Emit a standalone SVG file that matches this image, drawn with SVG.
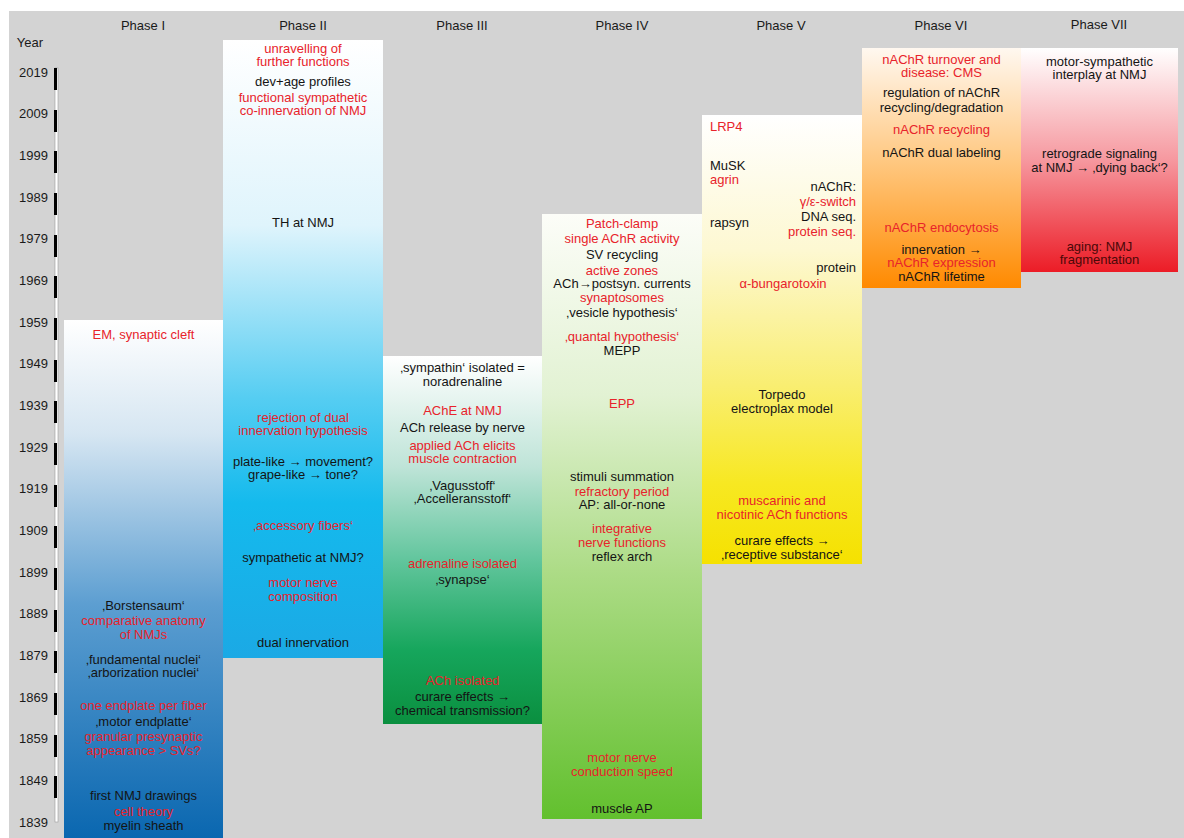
<svg xmlns="http://www.w3.org/2000/svg" width="1184" height="838" viewBox="0 0 1184 838">
<defs>
<style>
.t{font-family:"Liberation Sans",Arial,sans-serif;font-size:13px;text-anchor:middle;fill:#141414}
.r{fill:#e8232b}
.d{fill:#4a0808}
.l{text-anchor:start}
.e{text-anchor:end}
.y{font-family:"Liberation Sans",Arial,sans-serif;font-size:13px;text-anchor:end;fill:#1a1a1a}
.h{font-family:"Liberation Sans",Arial,sans-serif;font-size:13px;text-anchor:middle;fill:#1a1a1a}
.tick{fill:#000}
</style>
<linearGradient id="g1" x1="0" y1="0" x2="0" y2="1">
<stop offset="0" stop-color="#ffffff"/><stop offset="0.22" stop-color="#d6e6f2"/><stop offset="0.55" stop-color="#5c9ed1"/><stop offset="1" stop-color="#0a67b0"/>
</linearGradient>
<linearGradient id="g2" x1="0" y1="0" x2="0" y2="1">
<stop offset="0" stop-color="#ffffff"/><stop offset="0.3" stop-color="#dff4fc"/><stop offset="0.58" stop-color="#55cdf2"/><stop offset="0.75" stop-color="#14baed"/><stop offset="1" stop-color="#1ba9e5"/>
</linearGradient>
<linearGradient id="g3" x1="0" y1="0" x2="0" y2="1">
<stop offset="0" stop-color="#ffffff"/><stop offset="0.3" stop-color="#bfe4d8"/><stop offset="0.55" stop-color="#63c69e"/><stop offset="0.8" stop-color="#16a65c"/><stop offset="1" stop-color="#0a8f3f"/>
</linearGradient>
<linearGradient id="g4" x1="0" y1="0" x2="0" y2="1">
<stop offset="0" stop-color="#fcfdf8"/><stop offset="0.3" stop-color="#e2f2d3"/><stop offset="0.6" stop-color="#abdb84"/><stop offset="1" stop-color="#62c02e"/>
</linearGradient>
<linearGradient id="g5" x1="0" y1="0" x2="0" y2="1">
<stop offset="0" stop-color="#ffffff"/><stop offset="0.3" stop-color="#fdf8d2"/><stop offset="0.6" stop-color="#f9ee72"/><stop offset="0.82" stop-color="#f7e822"/><stop offset="1" stop-color="#f5e100"/>
</linearGradient>
<linearGradient id="g6" x1="0" y1="0" x2="0" y2="1">
<stop offset="0" stop-color="#fff8f0"/><stop offset="0.5" stop-color="#ffc57a"/><stop offset="1" stop-color="#ff8a00"/>
</linearGradient>
<linearGradient id="g7" x1="0" y1="0" x2="0" y2="1">
<stop offset="0" stop-color="#ffffff"/><stop offset="0.5" stop-color="#f6989f"/><stop offset="1" stop-color="#ec1c26"/>
</linearGradient>
</defs>
<rect x="0" y="0" width="1184" height="838" fill="#ffffff"/>
<rect x="9" y="11" width="1175" height="827" fill="#d3d3d3"/>

<g id="axis">
<text class="h" x="30" y="47">Year</text>
<rect x="55" y="68" width="3" height="754" fill="#ffffff" stroke="#9a9a9a" stroke-width="0.6"/>
<g class="tick">
<rect x="54" y="68" width="3" height="22"/><rect x="54" y="110" width="3" height="22"/><rect x="54" y="151" width="3" height="22"/><rect x="54" y="193" width="3" height="22"/><rect x="54" y="235" width="3" height="22"/><rect x="54" y="276" width="3" height="22"/><rect x="54" y="318" width="3" height="22"/><rect x="54" y="360" width="3" height="22"/><rect x="54" y="401" width="3" height="22"/><rect x="54" y="443" width="3" height="22"/><rect x="54" y="485" width="3" height="22"/><rect x="54" y="526" width="3" height="22"/><rect x="54" y="568" width="3" height="22"/><rect x="54" y="610" width="3" height="22"/><rect x="54" y="651" width="3" height="22"/><rect x="54" y="693" width="3" height="22"/><rect x="54" y="735" width="3" height="22"/><rect x="54" y="776" width="3" height="22"/>
</g>
<text class="y" x="48" y="77">2019</text>
<text class="y" x="48" y="118">2009</text>
<text class="y" x="48" y="160">1999</text>
<text class="y" x="48" y="202">1989</text>
<text class="y" x="48" y="243">1979</text>
<text class="y" x="48" y="285">1969</text>
<text class="y" x="48" y="327">1959</text>
<text class="y" x="48" y="368">1949</text>
<text class="y" x="48" y="410">1939</text>
<text class="y" x="48" y="452">1929</text>
<text class="y" x="48" y="493">1919</text>
<text class="y" x="48" y="535">1909</text>
<text class="y" x="48" y="577">1899</text>
<text class="y" x="48" y="618">1889</text>
<text class="y" x="48" y="660">1879</text>
<text class="y" x="48" y="702">1869</text>
<text class="y" x="48" y="743">1859</text>
<text class="y" x="48" y="785">1849</text>
<text class="y" x="48" y="827">1839</text>
</g>

<g id="headers">
<text class="h" x="143" y="30">Phase I</text>
<text class="h" x="303" y="30">Phase II</text>
<text class="h" x="462" y="30">Phase III</text>
<text class="h" x="622" y="30">Phase IV</text>
<text class="h" x="781" y="30">Phase V</text>
<text class="h" x="941" y="30">Phase VI</text>
<text class="h" x="1099" y="29">Phase VII</text>
</g>

<g id="phase1">
<rect x="64" y="320" width="159" height="518" fill="url(#g1)"/>
<text class="t r" x="143.5" y="339">EM, synaptic cleft</text>
<text class="t" x="143.5" y="610">‚Borstensaum‘</text>
<text class="t r" x="143.5" y="625">comparative anatomy</text>
<text class="t r" x="143.5" y="639">of NMJs</text>
<text class="t" x="143.5" y="664">‚fundamental nuclei‘</text>
<text class="t" x="143.5" y="677">‚arborization nuclei‘</text>
<text class="t r" x="143.5" y="710">one endplate per fiber</text>
<text class="t" x="143.5" y="726">‚motor endplatte‘</text>
<text class="t r" x="143.5" y="741">granular presynaptic</text>
<text class="t r" x="143.5" y="755">appearance &gt; SVs?</text>
<text class="t" x="143.5" y="800">first NMJ drawings</text>
<text class="t r" x="143.5" y="816">cell theory</text>
<text class="t" x="143.5" y="830">myelin sheath</text>
</g>

<g id="phase2">
<rect x="223" y="40" width="160" height="618" fill="url(#g2)"/>
<text class="t r" x="303" y="53">unravelling of</text>
<text class="t r" x="303" y="66">further functions</text>
<text class="t" x="303" y="86">dev+age profiles</text>
<text class="t r" x="303" y="102">functional sympathetic</text>
<text class="t r" x="303" y="115">co-innervation of NMJ</text>
<text class="t" x="303" y="227">TH at NMJ</text>
<text class="t r" x="303" y="422">rejection of dual</text>
<text class="t r" x="303" y="435">innervation hypothesis</text>
<text class="t" x="303" y="466">plate-like → movement?</text>
<text class="t" x="303" y="479">grape-like → tone?</text>
<text class="t r" x="303" y="530">‚accessory fibers‘</text>
<text class="t" x="303" y="562">sympathetic at NMJ?</text>
<text class="t r" x="303" y="587">motor nerve</text>
<text class="t r" x="303" y="601">composition</text>
<text class="t" x="303" y="647">dual innervation</text>
</g>

<g id="phase3">
<rect x="383" y="356" width="159" height="368" fill="url(#g3)"/>
<text class="t" x="462.5" y="372">‚sympathin‘ isolated =</text>
<text class="t" x="462.5" y="386">noradrenaline</text>
<text class="t r" x="462.5" y="415">AChE at NMJ</text>
<text class="t" x="462.5" y="432">ACh release by nerve</text>
<text class="t r" x="462.5" y="450">applied ACh elicits</text>
<text class="t r" x="462.5" y="463">muscle contraction</text>
<text class="t" x="462.5" y="490">‚Vagusstoff‘</text>
<text class="t" x="462.5" y="503">‚Accelleransstoff‘</text>
<text class="t r" x="462.5" y="568">adrenaline isolated</text>
<text class="t" x="462.5" y="584">‚synapse‘</text>
<text class="t r" x="462.5" y="685">ACh isolated</text>
<text class="t" x="462.5" y="701">curare effects →</text>
<text class="t" x="462.5" y="715">chemical transmission?</text>
</g>

<g id="phase4">
<rect x="542" y="214" width="160" height="605" fill="url(#g4)"/>
<text class="t r" x="622" y="228">Patch-clamp</text>
<text class="t r" x="622" y="243">single AChR activity</text>
<text class="t" x="622" y="259">SV recycling</text>
<text class="t r" x="622" y="275">active zones</text>
<text class="t" x="622" y="288">ACh→postsyn. currents</text>
<text class="t r" x="622" y="302">synaptosomes</text>
<text class="t" x="622" y="317">‚vesicle hypothesis‘</text>
<text class="t r" x="622" y="341">‚quantal hypothesis‘</text>
<text class="t" x="622" y="355">MEPP</text>
<text class="t r" x="622" y="408">EPP</text>
<text class="t" x="622" y="481">stimuli summation</text>
<text class="t r" x="622" y="496">refractory period</text>
<text class="t" x="622" y="509">AP: all-or-none</text>
<text class="t r" x="622" y="533">integrative</text>
<text class="t r" x="622" y="547">nerve functions</text>
<text class="t" x="622" y="561">reflex arch</text>
<text class="t r" x="622" y="762">motor nerve</text>
<text class="t r" x="622" y="776">conduction speed</text>
<text class="t" x="622" y="813">muscle AP</text>
</g>

<g id="phase5">
<rect x="702" y="115" width="160" height="449" fill="url(#g5)"/>
<text class="t r l" x="710" y="131">LRP4</text>
<text class="t l" x="710" y="170">MuSK</text>
<text class="t r l" x="710" y="184">agrin</text>
<text class="t e" x="856" y="191">nAChR:</text>
<text class="t r e" x="856" y="206">γ/ε-switch</text>
<text class="t l" x="710" y="227">rapsyn</text>
<text class="t e" x="856" y="221">DNA seq.</text>
<text class="t r e" x="856" y="236">protein seq.</text>
<text class="t e" x="856" y="272">protein</text>
<text class="t r" x="783" y="288">α-bungarotoxin</text>
<text class="t" x="782" y="399">Torpedo</text>
<text class="t" x="782" y="413">electroplax model</text>
<text class="t r" x="782" y="505">muscarinic and</text>
<text class="t r" x="782" y="519">nicotinic ACh functions</text>
<text class="t" x="782" y="545">curare effects →</text>
<text class="t" x="782" y="559">‚receptive substance‘</text>
</g>

<g id="phase6">
<rect x="862" y="48" width="159" height="240" fill="url(#g6)"/>
<text class="t r" x="941.5" y="64">nAChR turnover and</text>
<text class="t r" x="941.5" y="77">disease: CMS</text>
<text class="t" x="941.5" y="97">regulation of nAChR</text>
<text class="t" x="941.5" y="112">recycling/degradation</text>
<text class="t r" x="941.5" y="134">nAChR recycling</text>
<text class="t" x="941.5" y="157">nAChR dual labeling</text>
<text class="t r" x="941.5" y="232">nAChR endocytosis</text>
<text class="t" x="941.5" y="254">innervation →</text>
<text class="t r" x="941.5" y="267">nAChR expression</text>
<text class="t" x="941.5" y="281">nAChR lifetime</text>
</g>

<g id="phase7">
<rect x="1021" y="48" width="157" height="224" fill="url(#g7)"/>
<text class="t" x="1099.5" y="66">motor-sympathetic</text>
<text class="t" x="1099.5" y="79">interplay at NMJ</text>
<text class="t" x="1099.5" y="158">retrograde signaling</text>
<text class="t" x="1099.5" y="172">at NMJ → ‚dying back‘?</text>
<text class="t d" x="1099.5" y="251">aging: NMJ</text>
<text class="t d" x="1099.5" y="264">fragmentation</text>
</g>

<g id="connectors"></g>
</svg>
